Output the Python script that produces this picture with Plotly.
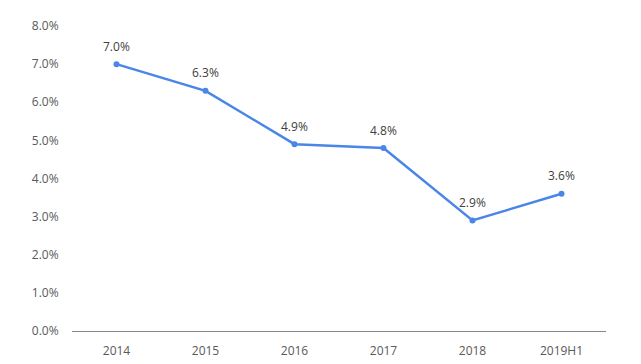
import plotly.graph_objects as go

categories = ["2014", "2015", "2016", "2017", "2018", "2019H1"]
values = [0.070, 0.063, 0.049, 0.048, 0.029, 0.036]
labels = ["7.0%", "6.3%", "4.9%", "4.8%", "2.9%", "3.6%"]
y_ticks = [0, 0.01, 0.02, 0.03, 0.04, 0.05, 0.06, 0.07, 0.08]
y_tick_text = ["0.0%", "1.0%", "2.0%", "3.0%", "4.0%", "5.0%", "6.0%", "7.0%", "8.0%"]

pos = list(range(len(categories)))

fig = go.Figure()
fig.add_trace(go.Scatter(
    x=pos, y=values, mode="lines+markers",
    line=dict(color="#4A86E8", width=2.5),
    marker=dict(color="#4A86E8", size=6),
    cliponaxis=False,
))
for p, v, t in zip(pos, values, labels):
    fig.add_annotation(x=p, y=v, text=t, showarrow=False, yshift=18,
                       font=dict(family="Open Sans, Arial", size=12, color="#404040"))
fig.update_layout(
    width=633, height=356,
    margin=dict(l=64, r=35, t=18, b=33),
    paper_bgcolor="white", plot_bgcolor="white",
    showlegend=False,
    font=dict(family="Open Sans, Arial", size=12, color="#595959"),
)
fig.update_xaxes(
    range=[-0.5, len(categories) - 0.5], tickvals=pos, ticktext=categories,
    showline=True, linecolor="#868686", linewidth=1, zeroline=False,
    showgrid=False, ticks="outside", ticklen=9, tickcolor="rgba(0,0,0,0)",
    tickfont=dict(size=12, color="#595959"), automargin=False,
)
fig.update_yaxes(
    range=[0, 0.08], tickvals=y_ticks, ticktext=y_tick_text,
    showgrid=False, zeroline=False, showline=False,
    ticks="outside", ticklen=10, tickcolor="rgba(0,0,0,0)",
    tickfont=dict(size=12, color="#595959"), automargin=False,
)
fig.write_html("out.html")
